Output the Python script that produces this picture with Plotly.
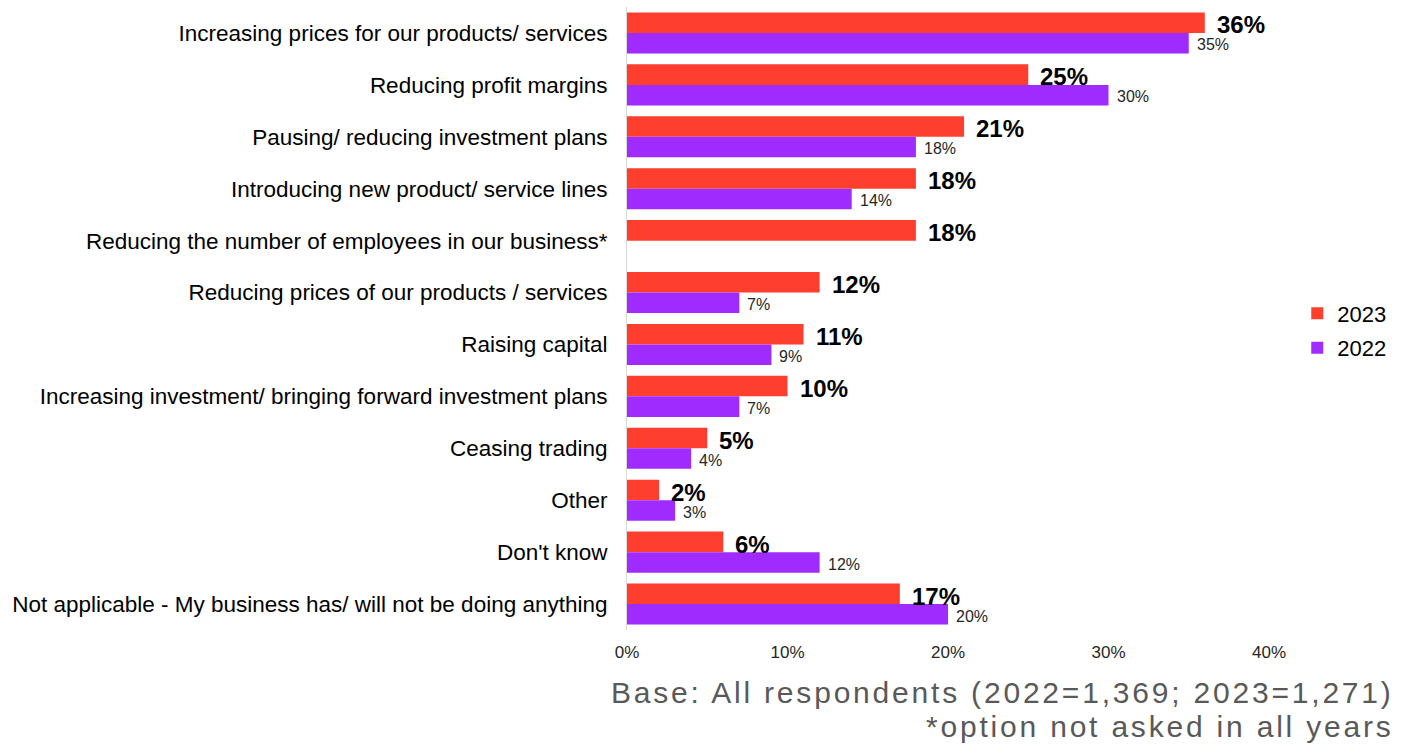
import plotly.graph_objects as go

categories = [
    "Increasing prices for our products/ services",
    "Reducing profit margins",
    "Pausing/ reducing investment plans",
    "Introducing new product/ service lines",
    "Reducing the number of employees in our business*",
    "Reducing prices of our products / services",
    "Raising capital",
    "Increasing investment/ bringing forward investment plans",
    "Ceasing trading",
    "Other",
    "Don't know",
    "Not applicable - My business has/ will not be doing anything",
]
values_2023 = [36, 25, 21, 18, 18, 12, 11, 10, 5, 2, 6, 17]
values_2022 = [35, 30, 18, 14, None, 7, 9, 7, 4, 3, 12, 20]
x_ticks = [0, 10, 20, 30, 40]
footnotes = [
    "Base: All respondents (2022=1,369; 2023=1,271)",
    "*option not asked in all years",
]

RED = "#FF3F2E"
PURPLE = "#A02BFF"
FONT = "Liberation Sans, Arial, sans-serif"

fig = go.Figure()
fig.add_trace(go.Bar(
    y=categories, x=values_2023, orientation="h", name="2023",
    legendgroup="a", marker=dict(color=RED, line=dict(width=0)),
))
fig.add_trace(go.Bar(
    y=categories, x=values_2022, orientation="h", name="2022",
    legendgroup="b", marker=dict(color=PURPLE, line=dict(width=0)),
))

# value labels beside each bar end
for cat, v in zip(categories, values_2023):
    fig.add_annotation(
        x=v, y=cat, text=f"<b>{v}%</b>", showarrow=False,
        xanchor="left", yanchor="middle", xshift=10, yshift=8,
        font=dict(family=FONT, size=24, color="#000000"),
    )
for cat, v in zip(categories, values_2022):
    if v is None:
        continue
    fig.add_annotation(
        x=v, y=cat, text=f"{v}%", showarrow=False,
        xanchor="left", yanchor="middle", xshift=6, yshift=-12,
        font=dict(family=FONT, size=16, color="#262626"),
    )

# base / footnote lines, right-aligned under the chart
for i, line in enumerate(footnotes):
    fig.add_annotation(
        xref="paper", yref="paper", x=1.0, y=0, xanchor="right", yanchor="middle",
        xshift=127, yshift=-62 - 34 * i,
        text=f'<span style="letter-spacing:2.8px">{line}</span>',
        showarrow=False,
        font=dict(family=FONT, size=30, color="#595959"),
    )

fig.update_layout(
    width=1406, height=745,
    margin=dict(l=627, r=137, t=7, b=115),
    paper_bgcolor="white", plot_bgcolor="white",
    barmode="group", bargap=0.21, bargroupgap=0,
    font=dict(family=FONT, color="#000000"),
    showlegend=True,
    legend=dict(
        x=1.044, xref="paper", xanchor="left", y=0.48, yanchor="middle",
        font=dict(family=FONT, size=22, color="#000000"),
        itemwidth=30, tracegroupgap=3, traceorder="grouped",
    ),
    xaxis=dict(
        range=[0, 40], tickvals=x_ticks, ticktext=[f"{t}%" for t in x_ticks],
        showgrid=False, zeroline=False, showline=False, ticks="",
        ticklabelstandoff=10,
        tickfont=dict(family=FONT, size=17, color="#262626"),
    ),
    yaxis=dict(
        autorange="reversed", showgrid=False, zeroline=False,
        showline=True, linecolor="#D9D9D9", linewidth=1, ticks="",
        ticklabelstandoff=14,
        tickfont=dict(family=FONT, size=22.5, color="#000000"),
    ),
)

fig.write_html("out.html")
